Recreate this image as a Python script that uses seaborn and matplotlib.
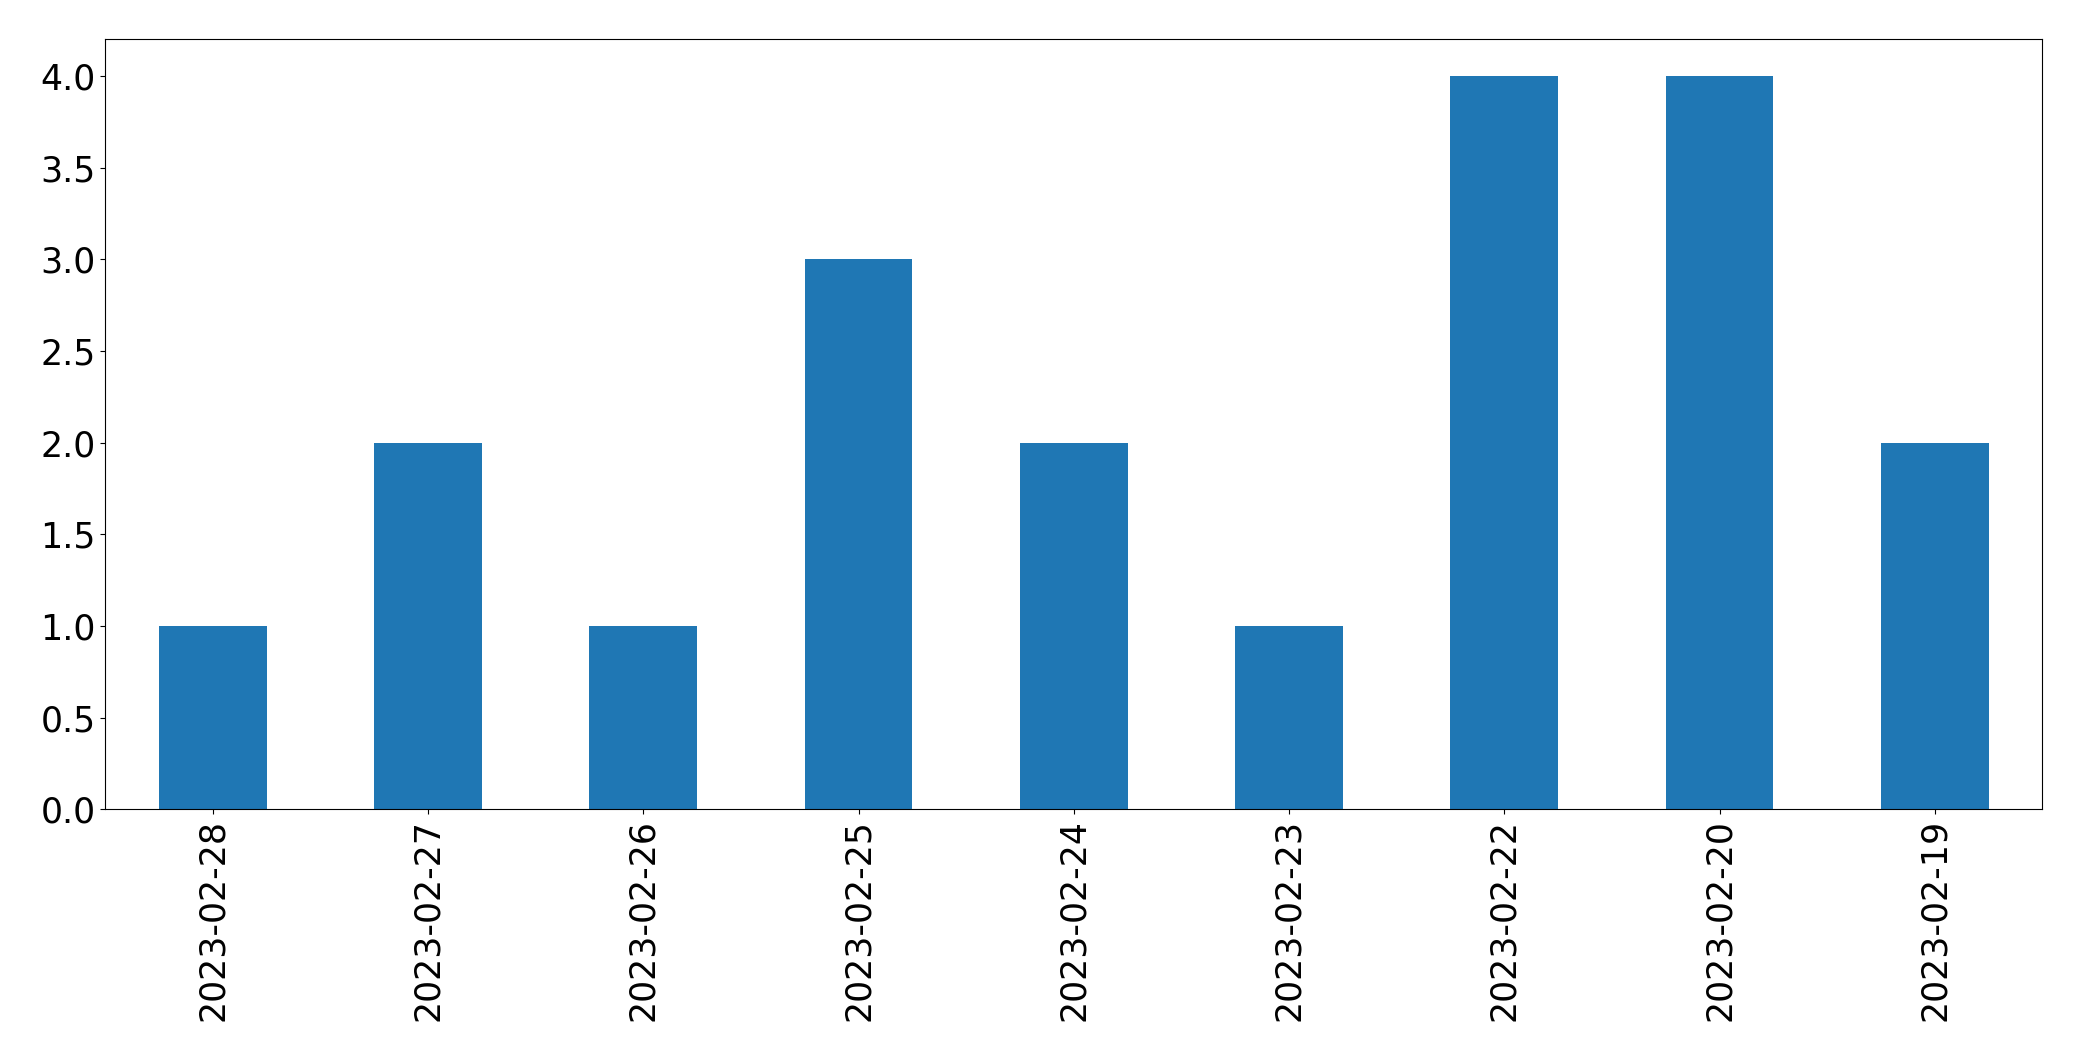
import matplotlib
matplotlib.use("Agg")
import matplotlib.pyplot as plt
import seaborn as sns
import pandas as pd

# Số lượng theo ngày
dates = ["2023-02-28", "2023-02-27", "2023-02-26", "2023-02-25", "2023-02-24",
         "2023-02-23", "2023-02-22", "2023-02-20", "2023-02-19"]
counts = [1, 2, 1, 3, 2, 1, 4, 4, 2]

df = pd.DataFrame({"date": dates, "count": counts})

fig, ax = plt.subplots(figsize=(20.82, 10.61), dpi=100)
sns.barplot(data=df, x="date", y="count", color="#1f77b4", saturation=1,
            width=0.5, ax=ax, linewidth=0)
ax.set_xlabel("")
ax.set_ylabel("")
ax.set_xlim(-0.5, len(dates) - 0.5)
ax.set_ylim(0, 4.2)
ax.tick_params(axis="both", labelsize=25)
plt.setp(ax.get_xticklabels(), rotation=90)
fig.subplots_adjust(left=0.0505, right=0.981, top=0.9628, bottom=0.2372)
fig.savefig("out.png", dpi=100)
